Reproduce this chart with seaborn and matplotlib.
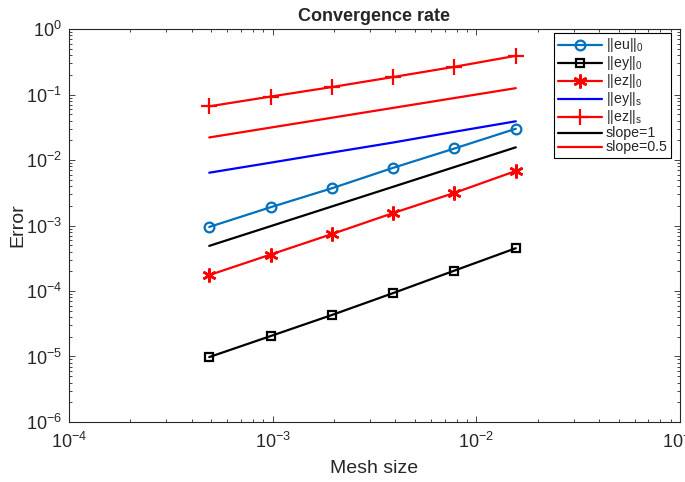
import matplotlib
matplotlib.use('Agg')
import matplotlib.pyplot as plt
import seaborn as sns

# mesh sizes and errors
mesh = [4.883e-4, 9.766e-4, 1.953e-3, 3.906e-3, 7.813e-3, 1.5625e-2]
eu_0 = [9.5e-4, 1.9e-3, 3.7e-3, 7.6e-3, 1.5e-2, 3.0e-2]
ey_0 = [9.8e-6, 2.05e-5, 4.3e-5, 9.3e-5, 2.05e-4, 4.5e-4]
ez_0 = [1.75e-4, 3.6e-4, 7.4e-4, 1.55e-3, 3.15e-3, 6.8e-3]
ey_s = [6.4e-3, 9.1e-3, 1.3e-2, 1.85e-2, 2.7e-2, 3.9e-2]
ez_s = [6.6e-2, 9.3e-2, 0.13, 0.185, 0.265, 0.39]
slope1 = [4.883e-4, 9.766e-4, 1.953e-3, 3.906e-3, 7.813e-3, 1.5625e-2]
slope05 = [0.0221, 0.03125, 0.0442, 0.0625, 0.0884, 0.125]

sns.set_style('ticks')
plt.rcParams['font.family'] = ['Liberation Sans', 'DejaVu Sans']
plt.rcParams['mathtext.default'] = 'regular'
plt.rcParams['xtick.direction'] = 'in'
plt.rcParams['ytick.direction'] = 'in'

fig, ax = plt.subplots(figsize=(6.85, 4.82), dpi=100)
fig.subplots_adjust(left=0.1007, right=0.9927, bottom=0.1245, top=0.9398)
ax.set_xscale('log')
ax.set_yscale('log')

lw = 1.6
sns.lineplot(x=mesh, y=eu_0, ax=ax, color='#0072BD', lw=lw, marker='o', ms=7,
             mfc='none', mec='#0072BD', mew=1.6, label='||eu||$_0$')
sns.lineplot(x=mesh, y=ey_0, ax=ax, color='black', lw=lw, marker='s', ms=6,
             mfc='none', mec='black', mew=1.6, label='||ey||$_0$')
sns.lineplot(x=mesh, y=ez_0, ax=ax, color='red', lw=lw, marker=(6, 2, 0), ms=10,
             mec='red', mew=1.8, label='||ez||$_0$')
sns.lineplot(x=mesh, y=ey_s, ax=ax, color='blue', lw=lw, label='||ey||$_s$')
sns.lineplot(x=mesh, y=ez_s, ax=ax, color='red', lw=lw, marker='+', ms=11,
             mec='red', mew=1.6, label='||ez||$_s$')
sns.lineplot(x=mesh, y=slope1, ax=ax, color='black', lw=lw, label='slope=1')
sns.lineplot(x=mesh, y=slope05, ax=ax, color='red', lw=lw, label='slope=0.5')

ax.set_xlim(1e-4, 1e-1)
ax.set_ylim(1e-6, 1e0)
ax.tick_params(which='both', top=True, right=True, labelsize=13, width=0.6)
ax.tick_params(which='major', length=4)
ax.tick_params(which='minor', length=2.5)
ax.tick_params(axis='x', which='both', pad=7)
ax.tick_params(axis='y', which='both', pad=5)
for s in ax.spines.values():
    s.set_linewidth(0.8)

ax.set_title('Convergence rate', fontsize=13, fontweight='bold', pad=6)
ax.set_xlabel('Mesh size', fontsize=14, labelpad=6)
ax.set_ylabel('Error', fontsize=14, labelpad=0)

leg = ax.legend(loc='upper right', bbox_to_anchor=(0.986, 0.99), borderaxespad=0,
                fontsize=10.2, handlelength=3.1, labelspacing=0.0, handletextpad=0.3,
                handleheight=0.5, borderpad=0.25, fancybox=False, framealpha=1,
                edgecolor='black')
leg.get_frame().set_linewidth(0.8)

fig.savefig('out.png', dpi=100)
